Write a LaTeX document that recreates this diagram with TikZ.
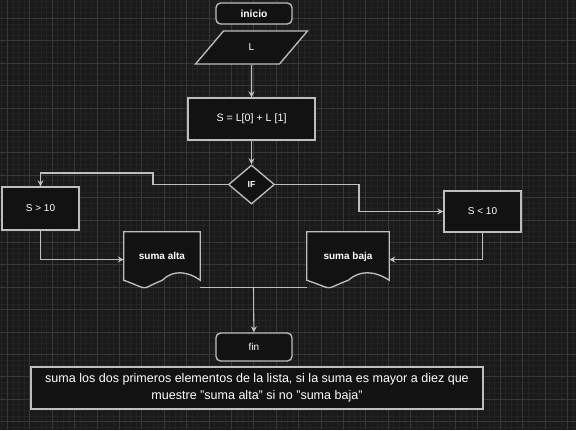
\documentclass[tikz,border=0pt]{standalone}
\usepackage{fontspec}
\setmainfont{Liberation Sans}
\usetikzlibrary{shapes,arrows.meta,positioning,calc,backgrounds}
\usepackage{xcolor}
\definecolor{canvas}{HTML}{1A1A1A}
\definecolor{gridminor}{HTML}{232323}
\definecolor{gridmajor}{HTML}{383838}
\definecolor{boxfill}{HTML}{121212}
\definecolor{edgegray}{HTML}{BEBEBE}

\begin{document}
\begin{tikzpicture}[
    x=0.75pt, y=-0.75pt,
    every node/.style={font=\fontsize{7.5}{9}\selectfont, text=white},
    box/.style={
        rectangle,
        draw=edgegray,
        fill=boxfill,
        line width=1pt,
        inner sep=0pt,
        align=center
    },
    terminal/.style={
        box,
        rounded corners=3.5pt,
        minimum width=57pt
    },
    inputbox/.style={
        trapezium,
        draw=edgegray,
        fill=boxfill,
        line width=1pt,
        trapezium left angle=68,
        trapezium right angle=112,
        trapezium stretches=true,
        inner sep=0pt,
        minimum width=84pt,
        minimum height=24.75pt
    },
    decision/.style={
        diamond,
        draw=edgegray,
        fill=boxfill,
        line width=1pt,
        inner sep=0pt,
        minimum width=34.5pt,
        minimum height=29.25pt,
        font=\fontsize{6.5}{8}\selectfont\bfseries
    },
    document/.style={
        rectangle,
        inner sep=0pt,
        minimum height=41.25pt,
        font=\fontsize{7.5}{9}\selectfont\bfseries
    },
    docline/.style={draw=edgegray, fill=boxfill, line width=1pt},
    flow/.style={
        draw=edgegray,
        line width=0.8pt,
        -{Stealth[length=4.5pt,width=4.5pt]}
    },
    plain/.style={draw=edgegray, line width=0.8pt}
]

\useasboundingbox (0,0) rectangle (576,430);

% Canvas with grid
\begin{pgfonlayer}{background}
\fill[canvas] (0,0) rectangle (576,430);
\foreach \i in {0,...,103} {
    \draw[gridminor, line width=0.4pt] ({1.7+5.6*\i},0) -- ++(0,430);
}
\foreach \i in {0,...,77} {
    \draw[gridminor, line width=0.4pt] (0,{1.5+5.6*\i}) -- ++(576,0);
}
\foreach \i in {0,...,25} {
    \draw[gridmajor, line width=0.5pt] ({7.3+22.4*\i},0) -- ++(0,430);
}
\foreach \i in {0,...,18} {
    \draw[gridmajor, line width=0.5pt] (0,{18.3+22.4*\i}) -- ++(576,0);
}
\end{pgfonlayer}

% Main column
\node[terminal, minimum height=15.75pt, font=\fontsize{7.7}{9}\selectfont\bfseries] (inicio) at (254,13.5) {inicio};
\node[inputbox] (lin) at (251.5,47.5) {L};
\node[box, minimum width=95.25pt, minimum height=31.5pt, font=\fontsize{8}{9}\selectfont] (calc) at (251.5,119) {S = L[0] + L [1]};
\node[decision] (if) at (251.5,184.5) {IF};

% Branches
\node[box, minimum width=57.75pt, minimum height=32.25pt] (mayor) at (40.5,208.5) {S > 10};
\node[box, minimum width=57.75pt, minimum height=30.75pt] (menor) at (482.5,211.5) {S < 10};

\node[document, minimum width=57pt] (alta) at (162,259.5) {\raisebox{5.5pt}{suma alta}};
\node[document, minimum width=61.5pt] (baja) at (348,259.5) {\raisebox{5.5pt}{suma baja}};

% End
\node[terminal, minimum height=21pt] (fin) at (254,347) {fin};
\node[box, minimum width=339pt, minimum height=31.5pt, font=\fontsize{9.4}{12.75}\selectfont] (nota) at (257,388) {
    suma los dos primeros elementos de la lista, si la suma es mayor a diez que\\
    muestre "suma alta" si no "suma baja"
};

% Document outlines
\begin{pgfonlayer}{background}
\path[docline] (alta.north west) -- (alta.north east) -- ($(alta.south east)+(0,-7)$)
    .. controls ($(alta.south east)+(-14,-17)$) and ($(alta.south east)+(-28,-17)$) .. ($(alta.south east)+(-38,-7)$)
    .. controls ($(alta.south west)+(14,3)$) and ($(alta.south west)+(28,3)$) .. ($(alta.south west)+(0,-7)$)
    -- cycle;
\path[docline] (baja.north west) -- (baja.north east) -- ($(baja.south east)+(0,-7)$)
    .. controls ($(baja.south east)+(-15,-17)$) and ($(baja.south east)+(-30,-17)$) .. ($(baja.south east)+(-41,-7)$)
    .. controls ($(baja.south west)+(15,3)$) and ($(baja.south west)+(30,3)$) .. ($(baja.south west)+(0,-7)$)
    -- cycle;
\end{pgfonlayer}

% Bend points
\coordinate (ifleft) at (153,173);
\coordinate (ifright) at (359,211.5);
\coordinate (join) at ($(alta.south east)!0.5!(baja.south west)$);

% Connectors
\draw[flow] (lin) -- (calc);
\draw[flow] (calc) -- (if);
\draw[flow] (if.west) -| (ifleft) -| (mayor.north);
\draw[flow] (if.east) -| (ifright) -- (menor.west);
\draw[flow] (mayor.south) |- (alta.west);
\draw[flow] (menor.south) |- (baja.east);
\draw[plain] (alta.south east) -- (baja.south west);
\draw[flow] (join) -- (fin);

\end{tikzpicture}
\end{document}
